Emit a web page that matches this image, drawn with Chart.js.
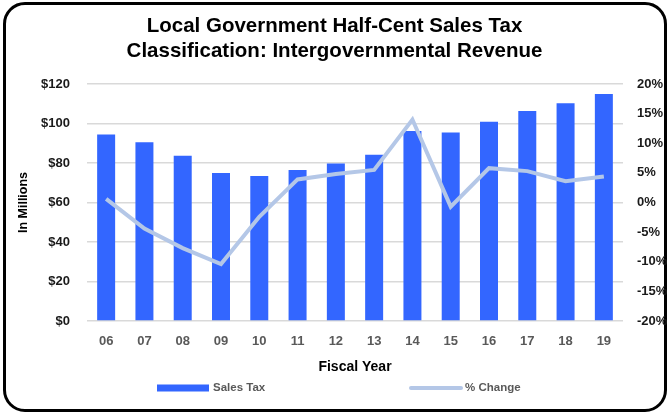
<!DOCTYPE html>
<html>
<head>
<meta charset="utf-8">
<script src="https://cdn.jsdelivr.net/npm/chart.js@4.4.1/dist/chart.umd.min.js"></script>
<style>
  html, body { margin: 0; padding: 0; background: #fff; }
  #card {
    position: absolute; left: 3px; top: 2px; width: 664px; height: 410px;
    box-sizing: border-box; border: 3.5px solid #000; border-radius: 22px;
  }
  #wrap { position: absolute; left: 0; top: 0; width: 669px; height: 413px; }
</style>
</head>
<body>
<div id="card"></div>
<div id="wrap"><canvas id="tax-chart" width="669" height="413"></canvas></div>
<script>
const years = ['06', '07', '08', '09', '10', '11', '12', '13', '14', '15', '16', '17', '18', '19'];
const salesTax = [94.5, 90.5, 83.7, 74.9, 73.4, 76.5, 79.8, 84.2, 96.2, 95.5, 100.9, 106.3, 110.2, 114.9];
const pctChange = [0.6, -4.4, -7.7, -10.4, -2.4, 3.9, 4.8, 5.5, 14.0, -0.7, 5.8, 5.3, 3.6, 4.4];
const titleLines = ['Local Government Half-Cent Sales Tax', 'Classification: Intergovernmental Revenue'];

const FONT = '"Liberation Sans", Arial, sans-serif';

// legend drawn by hand so the two items sit where the original has them
const legendPlugin = {
  id: 'bottomLegend',
  afterDraw(chart) {
    const ctx = chart.ctx;
    const bars = chart.data.datasets.find(d => d.type === 'bar');
    const line = chart.data.datasets.find(d => d.type === 'line');
    const y = 388;
    ctx.save();
    ctx.font = 'bold 11.5px ' + FONT;
    ctx.textBaseline = 'middle';
    ctx.fillStyle = bars.backgroundColor;
    ctx.fillRect(157, y - 3.5, 52, 7);
    ctx.fillStyle = '#595959';
    ctx.fillText(bars.label, 213, y);
    ctx.strokeStyle = line.borderColor;
    ctx.lineWidth = 4;
    ctx.lineCap = 'round';
    ctx.beginPath();
    ctx.moveTo(411, y);
    ctx.lineTo(461, y);
    ctx.stroke();
    ctx.fillStyle = '#595959';
    ctx.fillText(line.label, 465, y);
    ctx.restore();
  }
};

function loadChart() {
  const ctx = document.getElementById('tax-chart').getContext('2d');
  new Chart(ctx, {
    data: {
      labels: years,
      datasets: [
        {
          type: 'line',
          label: '% Change',
          data: pctChange,
          yAxisID: 'yPct',
          borderColor: '#b4c7e7',
          borderWidth: 4,
          pointRadius: 0,
          tension: 0,
          order: 0
        },
        {
          type: 'bar',
          label: 'Sales Tax',
          data: salesTax,
          yAxisID: 'y',
          backgroundColor: '#3366ff',
          categoryPercentage: 1,
          barPercentage: 0.47,
          order: 1
        }
      ]
    },
    options: {
      responsive: false,
      animation: false,
      layout: { padding: { left: 0, right: 0, top: 0, bottom: 37.6 } },
      plugins: {
        legend: { display: false },
        tooltip: { enabled: false },
        title: {
          display: true,
          text: titleLines,
          color: '#000',
          font: { family: FONT, size: 20.5, weight: 'bold', lineHeight: 1.22 },
          padding: { top: 14, bottom: 20 }
        }
      },
      scales: {
        x: {
          grid: { display: false, drawTicks: false },
          border: { display: false },
          ticks: { color: '#595959', padding: 13, font: { family: FONT, size: 13, weight: 'bold' } },
          title: {
            display: true,
            text: 'Fiscal Year',
            color: '#000',
            font: { family: FONT, size: 14, weight: 'bold' },
            padding: { top: 0, bottom: 0 }
          },
          afterFit: scale => { scale.height = 54.4; }
        },
        y: {
          position: 'left',
          min: 0,
          max: 120,
          ticks: {
            stepSize: 20,
            color: '#1a1a1a',
            padding: 17,
            font: { family: FONT, size: 13, weight: 'bold' },
            callback: v => '$' + v
          },
          grid: { color: '#d9d9d9', lineWidth: 1.5, drawTicks: false },
          border: { display: false },
          title: {
            display: true,
            text: 'In Millions',
            color: '#000',
            font: { family: FONT, size: 12.5, weight: 'bold' },
            padding: { top: 16.5, bottom: 0 }
          },
          afterFit: scale => { scale.width = 87; }
        },
        yPct: {
          position: 'right',
          min: -20,
          max: 20,
          ticks: {
            stepSize: 5,
            color: '#1a1a1a',
            padding: 14,
            font: { family: FONT, size: 13, weight: 'bold' },
            callback: v => v + '%'
          },
          grid: { display: false, drawTicks: false },
          border: { display: false },
          afterFit: scale => { scale.width = 46; }
        }
      }
    },
    plugins: [legendPlugin]
  });
}

document.addEventListener('DOMContentLoaded', () => {
  loadChart();
});
</script>
</body>
</html>
